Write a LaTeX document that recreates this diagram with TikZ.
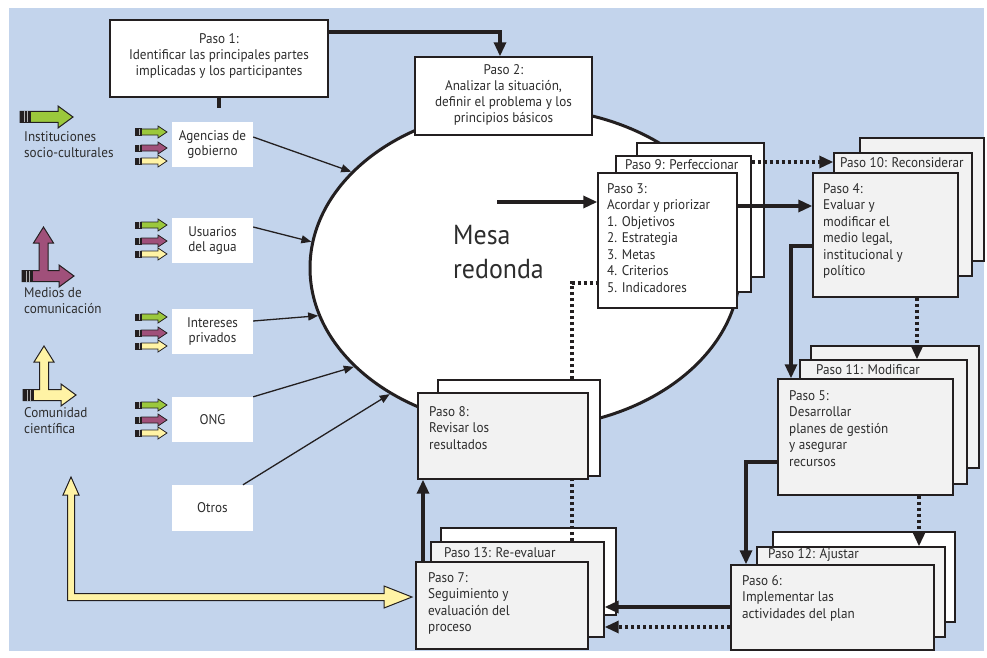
\documentclass[tikz,border=0pt]{standalone}
\usepackage{fontspec}
\setmainfont{PT Sans}[FakeStretch=0.94]
\usetikzlibrary{arrows.meta,shapes.geometric,fit,calc}
\definecolor{bgblue}{RGB}{195,212,236}
\definecolor{boxgray}{RGB}{242,242,242}
\definecolor{ink}{RGB}{35,31,32}
\definecolor{txt}{RGB}{45,45,45}
\definecolor{agreen}{RGB}{155,200,60}
\definecolor{apurple}{RGB}{160,80,122}
\definecolor{ayellow}{RGB}{255,243,165}
\tikzset{
 box/.style={draw=ink, line width=1.4pt, inner sep=0pt, fill=white},
 graybox/.style={box, fill=boxgray},
 sbox/.style={fill=white, inner sep=0pt},
 ltext/.style={font=\fontsize{14}{16.5}\selectfont, text=txt, align=left, anchor=north west, inner sep=0pt},
 labtext/.style={font=\fontsize{14}{16.5}\selectfont, text=txt, anchor=west, inner sep=0pt},
 ctext/.style={font=\fontsize{14}{16}\selectfont, text=txt, align=center, inner sep=0pt},
 stext/.style={font=\fontsize{14}{15.5}\selectfont, text=txt, align=center, inner sep=0pt},
 flow/.style={draw=ink, line width=3.2pt, -{Triangle[length=14pt,width=12pt]}},
 flowline/.style={draw=ink, line width=3.2pt},
 dotflow/.style={draw=ink, line width=3.2pt, dash pattern=on 3pt off 3pt, -{Triangle[length=14pt,width=12pt]}},
 dotline/.style={draw=ink, line width=3.2pt, dash pattern=on 3pt off 3pt},
 feeder/.style={draw=ink, line width=1.3pt, -{Triangle[length=10pt,width=8pt]}},
}
\newcommand{\cend}[2]{%
 \fill[ink] (#1,#2-6) rectangle (#1+11,#2+6);
 \draw[gray!60,line width=0.6pt] (#1+4,#2-5.5) -- (#1+4,#2+5.5) (#1+7.5,#2-5.5) -- (#1+7.5,#2+5.5);}
\newcommand{\bigH}[4]{%
 \draw[ink, line width=1pt, fill=#4, line join=miter] (#1,#3-5.5) -- (#2-15,#3-5.5) -- (#2-15,#3-11) -- (#2,#3) -- (#2-15,#3+11) -- (#2-15,#3+5.5) -- (#1,#3+5.5) -- cycle;
 \cend{#1}{#3}}
\newcommand{\bigL}[6]{%
 \draw[ink, line width=1pt, fill=#6, line join=miter] (#1,#3-5.5) -- (#2-4.5,#3-5.5) -- (#2-4.5,#5+16) -- (#2-10,#5+16) -- (#2,#5) -- (#2+10,#5+16) -- (#2+4.5,#5+16) -- (#2+4.5,#3-5.5) -- (#4-15,#3-5.5) -- (#4-15,#3-11) -- (#4,#3) -- (#4-15,#3+11) -- (#4-15,#3+5.5) -- (#1,#3+5.5) -- cycle;
 \cend{#1}{#3}}
\newcommand{\smallarr}[2]{%
 \draw[ink, line width=0.8pt, fill=#2, line join=miter] (141,#1-3) -- (158,#1-3) -- (158,#1-6) -- (167,#1) -- (158,#1+6) -- (158,#1+3) -- (141,#1+3) -- cycle;
 \fill[ink] (135,#1-3.5) rectangle (142,#1+3.5);
 \draw[gray!60, line width=0.5pt] (139.5,#1-3) -- (139.5,#1+3);}
\newcommand{\triple}[3]{\smallarr{#1}{agreen}\smallarr{#2}{apurple}\smallarr{#3}{ayellow}}
\begin{document}
\begin{tikzpicture}[x=1pt,y=-1pt]
\useasboundingbox (0,0) rectangle (987,658);
\fill[bgblue] (9,8) rectangle (984,651);

% round table
\node[draw=ink, line width=3pt, fill=white, ellipse, minimum width=430pt, minimum height=320pt, inner sep=0pt] (mesa) at (525,268) {};
\node[font=\fontsize{27.5}{34}\selectfont, text=txt, align=left, anchor=north west, inner sep=0pt] (mesatxt) at (453,225) {Mesa\\redonda};

% Paso 1 and 2
\node[box, fit={(110,20) (328,97)}] (p1) {};
\node[ctext] (t1) at (219,56) {Paso 1:\\Identificar las principales partes\\implicadas y los participantes};
\node[box, fit={(415,57) (592,135)}] (p2) {};
\node[ctext] (t2) at (503.5,95) {Paso 2:\\Analizar la situación,\\definir el problema y los\\principios básicos};

% left legend
\bigH{20}{73}{117}{agreen}
\node[ltext] (li) at (24,131) {Instituciones\\socio-culturales};
\bigL{22}{43.5}{276}{74}{227}{apurple}
\node[ltext] (lm) at (24,287) {Medios de\\comunicación};
\bigL{23}{44}{395}{76}{346}{ayellow}
\node[ltext] (lc) at (24,407) {Comunidad\\científica};

% stakeholders
\node[sbox, fit={(172,122) (253,167)}] (ag) {};
\node[stext] (agt) at (ag) {Agencias de\\gobierno};
\node[sbox, fit={(172,218) (253,263)}] (us) {};
\node[stext] (ust) at (us) {Usuarios\\del agua};
\node[sbox, fit={(172,309) (253,354)}] (ip) {};
\node[stext] (ipt) at (ip) {Intereses\\privados};
\node[sbox, fit={(172,397) (253,442)}] (ong) {};
\node[stext] (ongt) at (ong) {ONG};
\node[sbox, fit={(172,485) (253,531)}] (ot) {};
\node[stext] (ott) at (ot) {Otros};
\triple{132}{148}{161}
\triple{225}{241}{254}
\triple{317}{333}{346}
\triple{405}{420}{433}

\draw[feeder] (ag.east |- 0,137) -- (mesa.151);
\draw[feeder] (us.east |- 0,227) -- (mesa.173);
\draw[feeder] (ip.east |- 0,321) -- (mesa.193);
\draw[feeder] (ong.north east) -- (mesa.210);
\draw[feeder] (243,0 |- ot.north) -- (mesa.223);

% big yellow arrow to Paso 7
\draw[ink, line width=1pt, fill=ayellow, line join=miter] (67.5,600.5) -- (67.5,495) -- (63,495) -- (71,477) -- (79,495) -- (74.5,495) -- (74.5,593.5) -- (384,593.5) -- (384,586) -- (412,597) -- (384,608) -- (384,600.5) -- cycle;

% Paso 3 / 9 stack
\node[box, fit={(637,143) (764,277)}] (p3b) {};
\node[box, fit={(616,156) (751,292)}] (p9) {};
\node[labtext] (t9) at (625,165) {Paso 9: Perfeccionar};
\node[box, fit={(598,173) (737,308)}] (p3) {};
\node[ltext] (t3) at (607,183) {Paso 3:\\Acordar y priorizar\\1. Objetivos\\2. Estrategia\\3. Metas\\4. Criterios\\5. Indicadores};

% Paso 4 / 10 stack
\node[graybox, fit={(860,138) (984,261)}] (p4b) {};
\node[graybox, fit={(834,153) (972,276)}] (p10) {};
\node[labtext] (t10) at (840,163) {Paso 10: Reconsiderar};
\node[graybox, fit={(813,173) (958,297)}] (p4) {};
\node[ltext] (t4) at (823,183) {Paso 4:\\Evaluar y\\modificar el\\medio legal,\\institucional y\\político};

% Paso 5 / 11 stack
\node[graybox, fit={(811,346) (979,468)}] (p5b) {};
\node[graybox, fit={(800,360) (967,484)}] (p11) {};
\node[labtext] (t11) at (816,370) {Paso 11: Modificar};
\node[graybox, fit={(778,379) (953,495)}] (p5) {};
\node[ltext] (t5) at (789,390) {Paso 5:\\Desarrollar\\planes de gestión\\y asegurar\\recursos};

% Paso 6 / 12 stack
\node[box, fit={(773,532) (955,622)}] (p6b) {};
\node[graybox, fit={(757,547) (945,637)}] (p12) {};
\node[labtext] (t12) at (768,555) {Paso 12: Ajustar};
\node[graybox, fit={(731,565) (934,650)}] (p6) {};
\node[ltext] (t6) at (742,575) {Paso 6:\\Implementar las\\actividades del plan};

% Paso 7 / 13 stack
\node[box, fit={(441,528) (616,615)}] (p7b) {};
\node[graybox, fit={(431,542) (604,637)}] (p13) {};
\node[labtext] (t13) at (444,553) {Paso 13: Re-evaluar};
\node[graybox, fit={(416,562) (588,649)}] (p7) {};
\node[ltext] (t7) at (428,572) {Paso 7:\\Seguimiento y\\evaluación del\\proceso};

% flows
\draw[flow] (p1.east |- 0,32) -| (500,0 |- p2.north);
\draw[flowline] (p1.south) -- ++(0,10);
\coordinate (mstart) at (497,202);
\draw[flow] (mstart) -- (p3.west |- mstart);
\draw[flow] (p3.east |- 0,206) -- (p4.west |- 0,206);
\draw[dotflow] (p9.east |- 0,162) -- (p10.west |- 0,162);
\draw[flow] (p4.west |- 0,246) -| (791,0 |- p5.north);
\draw[dotflow] (917,0 |- p4.south) -- (917,0 |- p11.north);
\draw[flow] (p5.west |- 0,462) -| (746,0 |- p6.north);
\draw[dotflow] (919,0 |- p5.south) -- (919,0 |- p12.north);
\draw[flow] (p6.west |- 0,607) -- (p13.east |- 0,607);
\draw[dotflow] (p6.west |- 0,627) -- (p13.east |- 0,627);
\draw[dotline] (572,0 |- p13.north) -- (572,283) -- (p3.west |- 0,283);

% Paso 8 stack
\node[box, fit={(438,380) (600,476)}] (p8b) {};
\node[graybox, fit={(418,393) (588,479)}] (p8) {};
\node[ltext] (t8) at (429,406) {Paso 8:\\Revisar los\\resultados};
\draw[flow] (423,0 |- p7.north) -- (423,0 |- p8.south);
\end{tikzpicture}
\end{document}
